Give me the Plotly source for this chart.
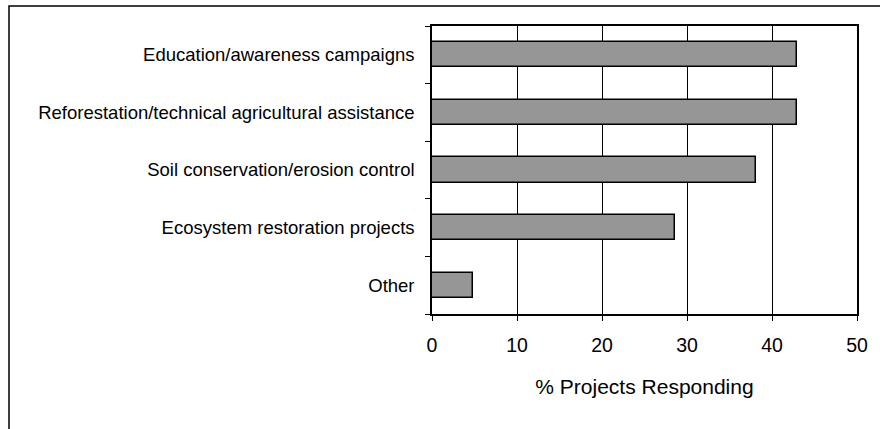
import plotly.graph_objects as go

# Share of projects reporting each activity type
categories = [
    "Education/awareness campaigns",
    "Reforestation/technical agricultural assistance",
    "Soil conservation/erosion control",
    "Ecosystem restoration projects",
    "Other",
]
percent_responding = [42.9, 42.9, 38.1, 28.6, 4.8]

x_ticks = [0, 10, 20, 30, 40, 50]
x_title = "% Projects Responding"

W, H = 880, 429
L, R, T, B = 431.5, 22.5, 26, 115
plot_w = W - L - R
plot_h = H - T - B

def px_to_paper_x(px):
    return (px - L) / plot_w

def px_to_paper_y(py):
    return (H - B - py) / plot_h

fig = go.Figure(
    go.Bar(
        x=percent_responding,
        y=categories,
        orientation="h",
        width=0.435,
        marker=dict(color="#969696", line=dict(color="black", width=1.5)),
    )
)

font_family = "Liberation Sans, Arial, sans-serif"

fig.update_layout(
    width=W,
    height=H,
    margin=dict(l=L, r=R, t=T, b=B, pad=0),
    paper_bgcolor="white",
    plot_bgcolor="white",
    showlegend=False,
    font=dict(family=font_family, color="black"),
    bargap=0,
    xaxis=dict(
        range=[0, 50],
        tickvals=x_ticks,
        ticktext=[str(v) for v in x_ticks],
        ticks="outside",
        ticklen=5,
        tickcolor="black",
        tickfont=dict(size=19.5),
        ticklabelstandoff=8,
        showgrid=True,
        gridcolor="black",
        gridwidth=1,
        showline=True,
        linecolor="black",
        linewidth=1.5,
        mirror=True,
        zeroline=False,
        title=dict(text=x_title, font=dict(size=21), standoff=24),
    ),
    yaxis=dict(
        categoryorder="array",
        categoryarray=list(reversed(categories)),
        autorange=False,
        range=[-0.5, len(categories) - 0.5],
        tickson="boundaries",
        ticks="outside",
        ticklen=5,
        tickcolor="black",
        tickfont=dict(size=18.5),
        showgrid=False,
        showline=True,
        linecolor="black",
        linewidth=1.5,
        mirror=True,
        zeroline=False,
        ticklabelstandoff=12,
    ),
)

# Outer chart frame (top and left edges)
fig.add_shape(
    type="rect",
    xref="paper",
    yref="paper",
    x0=px_to_paper_x(7.5),
    x1=px_to_paper_x(W + 20),
    y0=px_to_paper_y(H + 20),
    y1=px_to_paper_y(6),
    line=dict(color="black", width=1.5),
    fillcolor="rgba(0,0,0,0)",
    layer="below",
)

fig.write_html("out.html")
